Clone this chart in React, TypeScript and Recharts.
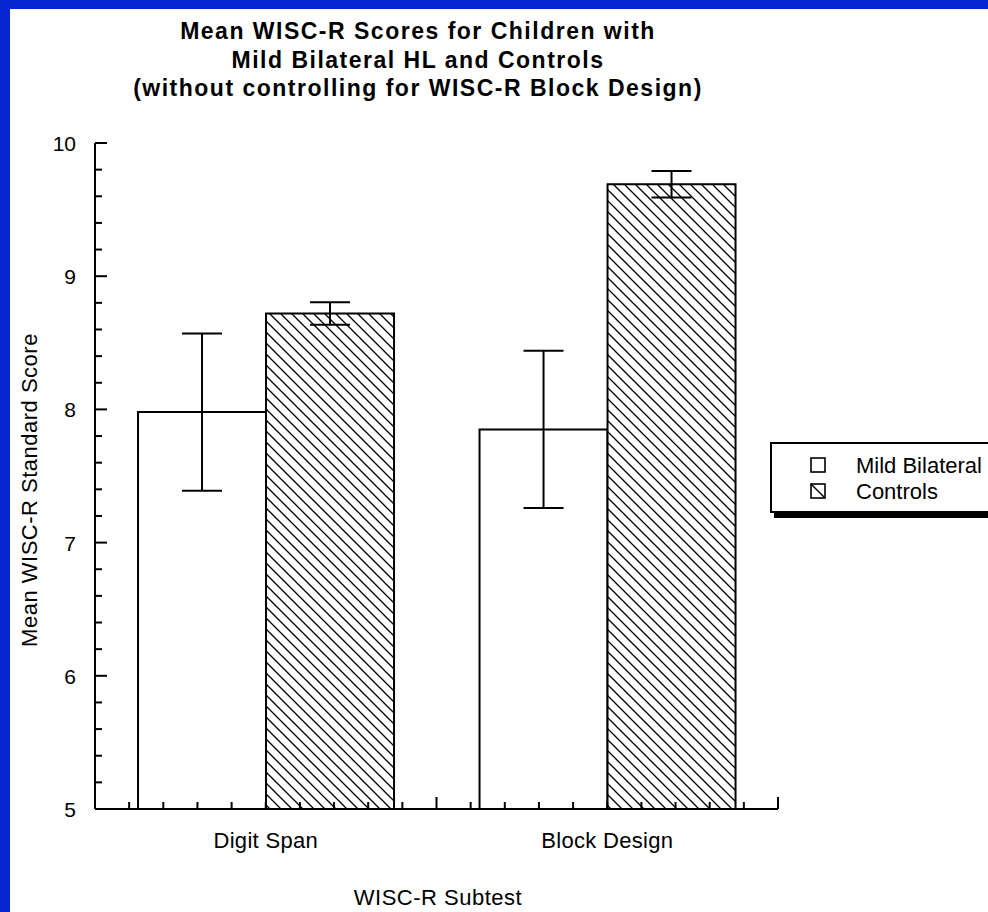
import React from 'react';
import { BarChart, Bar, XAxis, YAxis, ErrorBar, Legend } from 'recharts';

const categories = ['Digit Span', 'Block Design'];
const mildMeans = [7.98, 7.85];
const mildErrors = [0.59, 0.59];
const controlMeans = [8.72, 9.69];
const controlErrors = [0.085, 0.1];
const yTicks = [
  5, 5.2, 5.4, 5.6, 5.8, 6, 6.2, 6.4, 6.6, 6.8, 7, 7.2, 7.4, 7.6, 7.8, 8,
  8.2, 8.4, 8.6, 8.8, 9, 9.2, 9.4, 9.6, 9.8, 10,
];
const seriesNames = ['Mild Bilateral', 'Controls'];
const titleLines = [
  'Mean WISC-R Scores for Children with',
  'Mild Bilateral HL and Controls',
  '(without controlling for WISC-R Block Design)',
];
const xAxisTitle = 'WISC-R Subtest';
const yAxisTitle = 'Mean WISC-R Standard Score';

const data = categories.map((name, i) => ({
  name,
  mild: mildMeans[i],
  mildErr: mildErrors[i],
  controls: controlMeans[i],
  controlsErr: controlErrors[i],
}));

const FONT = '"Liberation Sans", Arial, Helvetica, sans-serif';
const BLUE = '#0826d0';

const YTick = (props: any) => {
  const { x, y, payload } = props;
  const v = payload.value as number;
  const major = Math.abs(v - Math.round(v)) < 1e-6;
  return (
    <g>
      <line x1={x} y1={y} x2={x + (major ? 12 : 7)} y2={y} stroke="#000" strokeWidth={2} />
      {major && (
        <text x={x - 19} y={y + 8} textAnchor="end" fontFamily={FONT} fontSize={21} fill="#000">
          {String(Math.round(v))}
        </text>
      )}
    </g>
  );
};

const XTick = (props: any) => {
  const { x, y, payload, width, visibleTicksCount } = props;
  let half = payload && typeof payload.offset === 'number' && payload.offset > 0 ? payload.offset : 0;
  if (!half && width && visibleTicksCount) half = width / visibleTicksCount / 2;
  const bw = half * 2;
  const start = x - half;
  const lines = [];
  for (let j = 1; j <= 10; j++) {
    const tx = start + (j * bw) / 10;
    const len = j === 10 ? 12 : 7;
    lines.push(<line key={j} x1={tx} y1={y} x2={tx} y2={y - len} stroke="#000" strokeWidth={2} />);
  }
  return (
    <g>
      {lines}
      <text x={x} y={y + 39} textAnchor="middle" fontFamily={FONT} fontSize={22} letterSpacing={0.3} fill="#000">
        {payload.value}
      </text>
    </g>
  );
};

const LegendBox = () => (
  <svg width={240} height={80} style={{ display: 'block', overflow: 'visible' }}>
    <rect x={4} y={69} width={240} height={7} fill="#000" />
    <rect x={1} y={1} width={240} height={69} fill="#fff" stroke="#000" strokeWidth={2} />
    {seriesNames.map((label, i) => {
      const sy = 16 + i * 26;
      return (
        <g key={label}>
          <rect x={41} y={sy} width={14} height={14} fill="#fff" stroke="#000" strokeWidth={1.6} />
          {i === 1 && <line x1={41} y1={sy} x2={55} y2={sy + 14} stroke="#000" strokeWidth={1.4} />}
          <text x={86} y={sy + 15} fontFamily={FONT} fontSize={22} fill="#000">
            {label}
          </text>
        </g>
      );
    })}
  </svg>
);

export default function App() {
  return (
    <div
      style={{
        position: 'absolute',
        left: 0,
        top: 0,
        width: 988,
        height: 912,
        overflow: 'hidden',
        background: BLUE,
      }}
    >
      <div style={{ position: 'absolute', left: 10, top: 9, width: 978, height: 903, background: '#fff' }} />
      <svg width={0} height={0} style={{ position: 'absolute' }}>
        <defs>
          <pattern id="hatch" patternUnits="userSpaceOnUse" width={11} height={11}>
            <rect x={0} y={0} width={11} height={11} fill="#fff" />
            <path d="M0,0 L11,11 M-2,9 L2,13 M9,-2 L13,2" stroke="#000" strokeWidth={1.3} />
          </pattern>
        </defs>
      </svg>
      <div style={{ position: 'absolute', left: 0, top: 0 }}>
        <BarChart
          width={988}
          height={912}
          data={data}
          margin={{ top: 143, right: 210, bottom: 43, left: 35 }}
          barCategoryGap="12.6%"
          barGap={0}
        >
          <Bar dataKey="mild" name={seriesNames[0]} fill="#fff" stroke="#000" strokeWidth={2} isAnimationActive={false}>
            <ErrorBar dataKey="mildErr" width={20} stroke="#000" strokeWidth={2} isAnimationActive={false} />
          </Bar>
          <Bar dataKey="controls" name={seriesNames[1]} fill="url(#hatch)" stroke="#000" strokeWidth={2} isAnimationActive={false}>
            <ErrorBar dataKey="controlsErr" width={20} stroke="#000" strokeWidth={2} isAnimationActive={false} />
          </Bar>
          <XAxis
            dataKey="name"
            height={60}
            tickSize={0}
            tickMargin={0}
            tickLine={false}
            axisLine={{ stroke: '#000', strokeWidth: 2 }}
            tick={<XTick />}
            interval={0}
          />
          <YAxis
            width={60}
            domain={[5, 10]}
            ticks={yTicks}
            allowDataOverflow
            tickSize={0}
            tickMargin={0}
            tickLine={false}
            axisLine={{ stroke: '#000', strokeWidth: 2 }}
            tick={<YTick />}
            interval={0}
          />
          <Legend
            layout="vertical"
            align="center"
            verticalAlign="middle"
            wrapperStyle={{ position: 'absolute', left: 770, top: 442, width: 240, height: 80 }}
            content={() => <LegendBox />}
          />
        </BarChart>
      </div>
      <svg
        width={988}
        height={912}
        style={{ position: 'absolute', left: 0, top: 0, pointerEvents: 'none' }}
      >
        {titleLines.map((t, i) => (
          <text
            key={i}
            x={418}
            y={39 + i * 28.5}
            textAnchor="middle"
            fontFamily={FONT}
            fontWeight="bold"
            fontSize={23}
            letterSpacing={1.5}
            fill="#000"
          >
            {t}
          </text>
        ))}
        <text
          x={37}
          y={490}
          transform="rotate(-90 37 490)"
          textAnchor="middle"
          fontFamily={FONT}
          fontSize={22}
          letterSpacing={0.5}
          fill="#000"
        >
          {yAxisTitle}
        </text>
        <text x={438} y={905} textAnchor="middle" fontFamily={FONT} fontSize={22} letterSpacing={0.5} fill="#000">
          {xAxisTitle}
        </text>
      </svg>
    </div>
  );
}
